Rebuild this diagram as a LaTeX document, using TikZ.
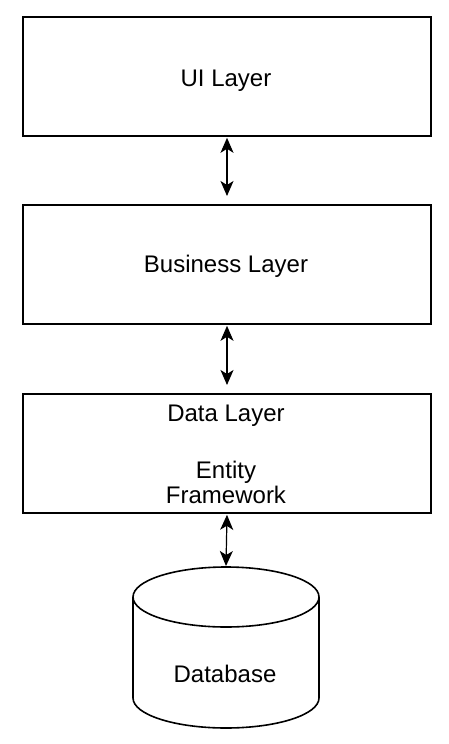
\documentclass[tikz,border=0pt]{standalone}
\usepackage{fontspec}
\setmainfont{Liberation Sans}
\usetikzlibrary{arrows.meta}
\begin{document}
\begin{tikzpicture}[x=1pt,y=-1pt,
  layer/.style={draw, line width=1.6pt, minimum width=408pt, minimum height=119pt, inner sep=0pt},
  link/.style={line width=1.2pt, {Stealth[length=15pt,width=13pt,inset=4pt]}-{Stealth[length=15pt,width=13pt,inset=4pt]}},
  txt/.style={font=\fontsize{24}{25}\selectfont, align=center, inner sep=0pt, anchor=base},
  dbline/.style={line width=1.6pt}]
\useasboundingbox (0,0) rectangle (448,744);
\node[layer] (ui) at (227,76.5) {};
\node[txt] (uitxt) at (226,86) {UI Layer};
\node[layer] (bl) at (227,264.5) {};
\node[txt] (bltxt) at (226,272) {Business Layer};
\node[layer] (dl) at (227,453.5) {};
\node[txt] (dltxt) at (226,503) {Data Layer\\[31.5pt]Entity\\Framework};
% cylinder
\draw[dbline, fill=white] (133,597) -- (133,698) arc[start angle=180, end angle=0, x radius=93, y radius=30] -- (319,597) arc[start angle=0, end angle=-180, x radius=93, y radius=30] -- cycle;
\draw[dbline] (133,597) arc[start angle=180, end angle=0, x radius=93, y radius=30];
\coordinate (dbtop) at (226,566);
\node[txt] (db) at (225,682) {Database};
\draw[link] (ui.south) ++(0,1) coordinate (a1) -- (227,196) coordinate (a2);
\draw[link] (bl.south) ++(0,1) coordinate (b1) -- (227,385) coordinate (b2);
\draw[link] (dl.south) ++(0,1) coordinate (c1) -- (dbtop);
\end{tikzpicture}
\end{document}
